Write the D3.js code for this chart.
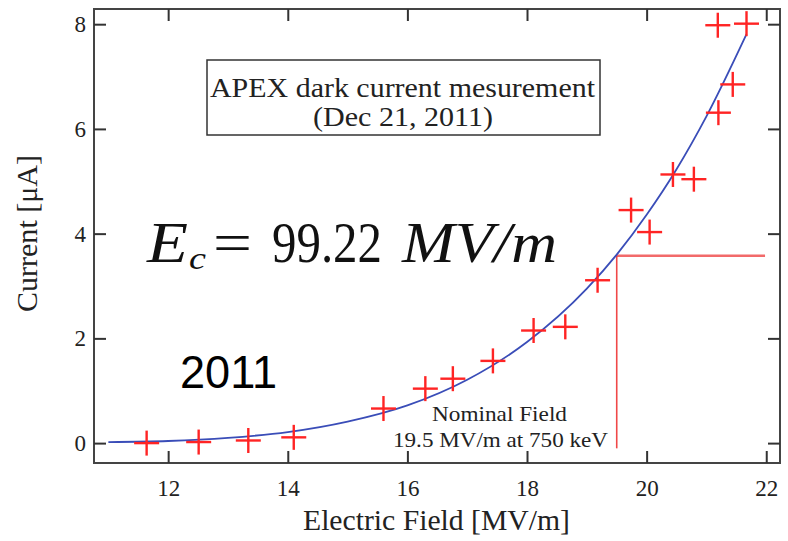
<!DOCTYPE html>
<html>
<head>
<meta charset="utf-8">
<script src="https://cdn.jsdelivr.net/npm/d3@7"></script>
<style>
  html, body { margin: 0; padding: 0; background: #fff; }
  svg { display: block; }
</style>
</head>
<body>
<svg id="chart" width="788" height="541"></svg>
<script>
// ---- data ----
const fieldMeasured = [11.64, 12.51, 13.34, 14.10, 15.60, 16.30, 16.76, 17.43, 18.11, 18.64, 19.18, 19.74, 20.05, 20.44, 20.79, 21.20, 21.44, 21.19, 21.67];
const currentMeasured = [0.00, 0.02, 0.05, 0.11, 0.66, 1.04, 1.23, 1.57, 2.15, 2.22, 3.11, 4.45, 4.03, 5.13, 5.04, 6.31, 6.85, 7.98, 8.01];
const fieldFit = [11, 12, 13, 14, 15, 16, 17, 18, 19, 19.5, 20, 20.5, 21, 21.67];
const currentFit = [0.02, 0.04, 0.10, 0.21, 0.41, 0.72, 1.21, 1.93, 2.95, 3.60, 4.36, 5.23, 6.24, 7.81];
const xTicks = [12, 14, 16, 18, 20, 22];
const yTicks = [0, 2, 4, 6, 8];
const nominalField = 19.5;
const nominalCurrent = 3.58;
const nominalLineEnd = 21.98;
const nominalLineBottom = -0.1;
const titleLines = ["APEX dark current mesurement", "(Dec 21, 2011)"];
const noteLines = ["Nominal Field", "19.5 MV/m at 750 keV"];
const xTitle = "Electric Field [MV/m]";
const yTitle = "Current [\u03BCA]";
const yearLabel = "2011";

// ---- layout ----
const SERIF = "'Liberation Serif', 'Times New Roman', serif";
const SANS = "'Liberation Sans', Arial, sans-serif";
const L = 94, R = 780, T = 9, B = 463;
const svg = d3.select("#chart");
const x = d3.scaleLinear().domain([10.76, 22.23]).range([L, R]);
const y = d3.scaleLinear().domain([-0.38, 8.29]).range([B, T]);

function serifText(sel) { return sel.style("font-family", SERIF).attr("fill", "#222"); }

// frame
svg.append("rect").attr("x", L).attr("y", T).attr("width", R - L).attr("height", B - T)
  .attr("fill", "none").attr("stroke", "#444").attr("stroke-width", 2);

function styleAxis(g) {
  g.select(".domain").remove();
  g.selectAll(".tick line").attr("stroke", "#333").attr("stroke-width", 2);
  g.selectAll("text").style("font-family", SERIF).attr("font-size", 23).attr("fill", "#222");
}
svg.append("g").attr("transform", `translate(0,${B})`)
  .call(d3.axisBottom(x).tickValues(xTicks).tickSizeInner(-12).tickSizeOuter(0).tickPadding(17).tickFormat(d3.format("d")))
  .call(styleAxis);
svg.append("g").attr("transform", `translate(0,${T})`)
  .call(d3.axisTop(x).tickValues(xTicks).tickSizeInner(-12).tickSizeOuter(0).tickFormat(""))
  .call(styleAxis);
svg.append("g").attr("transform", `translate(${L},0)`)
  .call(d3.axisLeft(y).tickValues(yTicks).tickSizeInner(-12).tickSizeOuter(0).tickPadding(8).tickFormat(d3.format("d")))
  .call(styleAxis);
svg.append("g").attr("transform", `translate(${R},0)`)
  .call(d3.axisRight(y).tickValues(yTicks).tickSizeInner(-12).tickSizeOuter(0).tickFormat(""))
  .call(styleAxis);

// title box
svg.append("rect").attr("x", 207).attr("y", 60).attr("width", 393).attr("height", 75)
  .attr("fill", "#fff").attr("stroke", "#333").attr("stroke-width", 1.5);
svg.append("text").attr("x", 402.5).attr("y", 96.5).attr("text-anchor", "middle")
  .attr("font-size", 26.5).attr("textLength", 385).attr("lengthAdjust", "spacingAndGlyphs").text(titleLines[0]).call(serifText);
svg.append("text").attr("x", 403).attr("y", 126).attr("text-anchor", "middle")
  .attr("font-size", 26.5).attr("textLength", 180).attr("lengthAdjust", "spacingAndGlyphs").text(titleLines[1]).call(serifText);

// equation
const eq = svg.append("g");
eq.append("text").attr("x", 147).attr("y", 262).attr("font-size", 58).attr("font-style", "italic")
  .attr("textLength", 41).attr("lengthAdjust", "spacingAndGlyphs").text("E").call(serifText);
eq.append("text").attr("x", 189).attr("y", 269).attr("font-size", 32).attr("font-style", "italic")
  .attr("textLength", 17).attr("lengthAdjust", "spacingAndGlyphs").text("c").call(serifText);
eq.append("text").attr("x", 213).attr("y", 262).attr("font-size", 58)
  .attr("textLength", 39).attr("lengthAdjust", "spacingAndGlyphs").text("=").call(serifText);
eq.append("text").attr("x", 272).attr("y", 262).attr("font-size", 56)
  .attr("textLength", 110).attr("lengthAdjust", "spacingAndGlyphs").text("99.22").call(serifText);
eq.append("text").attr("x", 402).attr("y", 262).attr("font-size", 58).attr("font-style", "italic")
  .attr("textLength", 155).attr("lengthAdjust", "spacingAndGlyphs").text("MV/m").call(serifText);
eq.selectAll("text").attr("fill", "#111");

// year label
svg.append("text").attr("x", 180).attr("y", 388).style("font-family", SANS)
  .attr("font-size", 47).attr("fill", "#000").attr("textLength", 97).attr("lengthAdjust", "spacingAndGlyphs").text(yearLabel);

// nominal field note
svg.append("text").attr("x", 499.5).attr("y", 421).attr("text-anchor", "middle").attr("font-size", 22)
  .attr("textLength", 135).attr("lengthAdjust", "spacingAndGlyphs").text(noteLines[0]).call(serifText);
svg.append("text").attr("x", 500.5).attr("y", 446.5).attr("text-anchor", "middle").attr("font-size", 22)
  .attr("textLength", 215).attr("lengthAdjust", "spacingAndGlyphs").text(noteLines[1]).call(serifText);

// nominal field lines
svg.append("line").attr("x1", x(nominalField)).attr("x2", x(nominalLineEnd))
  .attr("y1", y(nominalCurrent)).attr("y2", y(nominalCurrent))
  .attr("stroke", "#f26a6a").attr("stroke-width", 2.5);
svg.append("line").attr("x1", x(nominalField)).attr("x2", x(nominalField))
  .attr("y1", y(nominalCurrent)).attr("y2", y(nominalLineBottom))
  .attr("stroke", "#f04848").attr("stroke-width", 1.6);

// fit curve
const fitData = fieldFit.map((f, i) => [f, currentFit[i]]);
svg.append("path").datum(fitData)
  .attr("d", d3.line().x(d => x(d[0])).y(d => y(d[1])).curve(d3.curveMonotoneX))
  .attr("fill", "none").attr("stroke", "#3a4db8").attr("stroke-width", 1.8);

// measured points (plus markers)
const half = 12.5;
const pts = svg.append("g").attr("stroke", "#ff2424").attr("stroke-width", 2.4);
fieldMeasured.forEach((f, i) => {
  const cx = x(f), cy = y(currentMeasured[i]);
  pts.append("line").attr("x1", cx - half).attr("x2", cx + half).attr("y1", cy).attr("y2", cy);
  pts.append("line").attr("x1", cx).attr("x2", cx).attr("y1", cy - half).attr("y2", cy + half);
});

// axis titles
svg.append("text").attr("x", 436.5).attr("y", 530).attr("text-anchor", "middle").attr("font-size", 29)
  .attr("textLength", 267).attr("lengthAdjust", "spacingAndGlyphs").text(xTitle).call(serifText);
svg.append("text").attr("transform", "translate(37,233.5) rotate(-90)").attr("text-anchor", "middle")
  .attr("font-size", 29).attr("textLength", 157).attr("lengthAdjust", "spacingAndGlyphs").text(yTitle).call(serifText);
</script>
</body>
</html>
